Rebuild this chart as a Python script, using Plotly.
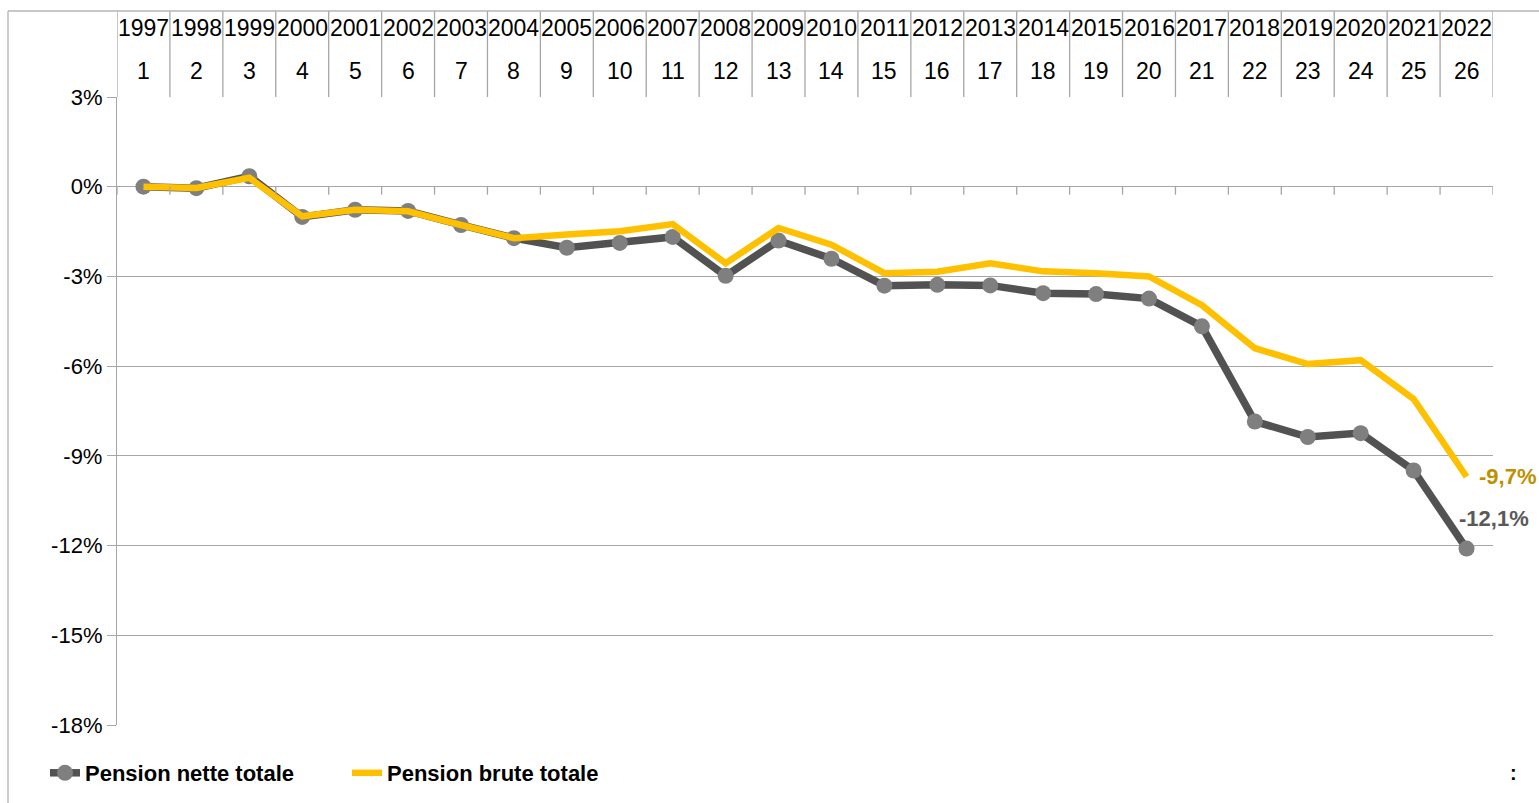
import plotly.graph_objects as go

years = [str(y) for y in range(1997, 2023)]
ranks = list(range(1, 27))
nette = [0.0, -0.05, 0.35, -1.01, -0.77, -0.81, -1.28, -1.72, -2.04, -1.88, -1.68, -2.98, -1.8,
         -2.41, -3.31, -3.28, -3.3, -3.56, -3.59, -3.74, -4.67, -7.85, -8.37, -8.24, -9.49, -12.1]
brute = [0.0, -0.04, 0.3, -0.99, -0.77, -0.82, -1.28, -1.72, -1.6, -1.49, -1.25, -2.56, -1.38,
         -1.94, -2.89, -2.84, -2.56, -2.83, -2.89, -3.0, -3.96, -5.4, -5.93, -5.8, -7.1, -9.7]
name_nette = "Pension nette totale"
name_brute = "Pension brute totale"
y_ticks = [3, 0, -3, -6, -9, -12, -15, -18]

GRID = "#a6a6a6"
FONT = "Liberation Sans"
W, H = 1539, 803
L, R, T, B = 117, 46, 97, 78
PW, PH = W - L - R, H - T - B

fig = go.Figure()
fig.add_trace(go.Scatter(
    x=ranks, y=nette, name=name_nette, mode="lines+markers",
    line=dict(color="#525252", width=7.5),
    marker=dict(color="#7f7f7f", size=16, line=dict(width=0)),
))
fig.add_trace(go.Scatter(
    x=ranks, y=brute, name=name_brute, mode="lines",
    line=dict(color="#ffc000", width=6.5),
))

shapes = []
annotations = []
n = len(ranks)
# header table lines and axis ticks at category boundaries
for k in range(n + 1):
    xb = ranks[0] - 0.5 + k
    shapes.append(dict(type="line", xref="x", yref="paper", x0=xb, x1=xb,
                       y0=1, y1=1 + 86 / PH, line=dict(color=GRID, width=1.3)))
    shapes.append(dict(type="line", xref="x", yref="y", x0=xb, x1=xb,
                       ysizemode="pixel", yanchor=0, y0=0, y1=-8,
                       line=dict(color=GRID, width=1.3)))
# outer chart border (top and left)
shapes.append(dict(type="line", xref="paper", yref="paper",
                   x0=(8 - L) / PW, x1=(W - L) / PW, y0=1 + 86 / PH, y1=1 + 86 / PH,
                   line=dict(color="#b4b4b4", width=1.3)))
shapes.append(dict(type="line", xref="paper", yref="paper",
                   x0=(8 - L) / PW, x1=(8 - L) / PW, y0=1 + 86 / PH, y1=-B / PH - 0.01,
                   line=dict(color="#b4b4b4", width=1.3)))

for yr, rk in zip(years, ranks):
    annotations.append(dict(x=rk, y=1, xref="x", yref="paper", text=yr, showarrow=False,
                            yanchor="middle", yshift=69,
                            font=dict(family=FONT, size=23, color="#000000")))
    annotations.append(dict(x=rk, y=1, xref="x", yref="paper", text=str(rk), showarrow=False,
                            yanchor="middle", yshift=26,
                            font=dict(family=FONT, size=23, color="#000000")))

def fmt(v):
    return f"{v:.1f}%".replace(".", ",")

annotations.append(dict(x=ranks[-1], y=brute[-1], xref="x", yref="y", text=f"<b>{fmt(brute[-1])}</b>",
                        showarrow=False, xanchor="left", yanchor="middle", xshift=10,
                        font=dict(family=FONT, size=22, color="#bf9000")))
annotations.append(dict(x=ranks[-1], y=nette[-1], xref="x", yref="y", text=f"<b>{fmt(nette[-1])}</b>",
                        showarrow=False, xanchor="left", yanchor="middle", xshift=-10, yshift=30,
                        font=dict(family=FONT, size=22, color="#595959")))
annotations.append(dict(x=(1519 - L) / PW, y=-(773 - (H - B)) / PH, xref="paper", yref="paper",
                        text="<b>:</b>", showarrow=False, yanchor="middle",
                        font=dict(family=FONT, size=20, color="#000000")))

fig.update_layout(
    width=W, height=H,
    margin=dict(l=L, r=R, t=T, b=B),
    paper_bgcolor="white", plot_bgcolor="white",
    font=dict(family=FONT, size=22, color="#000000"),
    showlegend=True,
    legend=dict(orientation="h", xref="container", x=45 / W, xanchor="left",
                yref="container", y=1 - 773 / H, yanchor="middle",
                font=dict(family=FONT, size=22, color="#000000", weight="bold"),
                traceorder="normal", entrywidth=257, entrywidthmode="pixels",
                bgcolor="rgba(0,0,0,0)"),
    xaxis=dict(range=[ranks[0] - 0.5, ranks[-1] + 0.5], showticklabels=False, showgrid=False,
               zeroline=False, showline=False, ticks=""),
    yaxis=dict(range=[-18, 3], tickvals=y_ticks, ticktext=[f"{v}%" for v in y_ticks],
               showgrid=True, gridcolor=GRID, gridwidth=1.3,
               zeroline=True, zerolinecolor=GRID, zerolinewidth=1.3,
               showline=True, linecolor=GRID, linewidth=1.3,
               ticks="outside", ticklen=9, tickcolor=GRID, tickwidth=1.3,
               tickfont=dict(family=FONT, size=22, color="#000000")),
    shapes=shapes, annotations=annotations,
)

fig.write_html("out.html", config={"displayModeBar": False},
               post_script="document.body.style.margin='0px';document.body.style.overflow='hidden';")
